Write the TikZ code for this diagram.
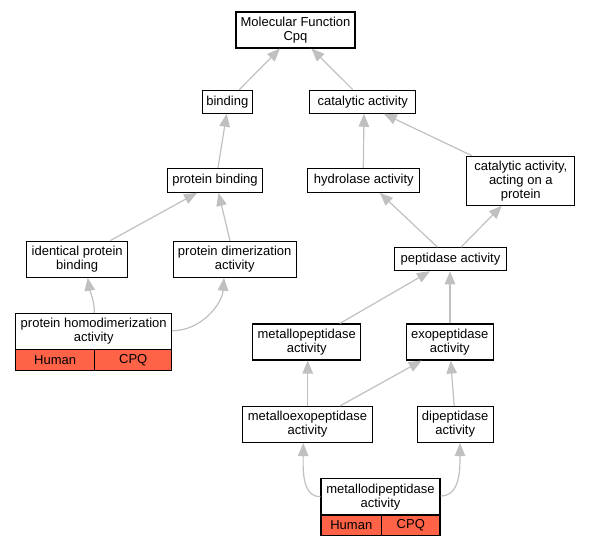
\documentclass[tikz,border=0pt]{standalone}
\usepackage{fontspec}
\setmainfont{Liberation Sans}
\usetikzlibrary{arrows.meta,calc}
\definecolor{edgegray}{HTML}{C0C0C0}
\definecolor{cellred}{HTML}{FF6347}
\tikzset{
  box/.style={draw=black, line width=1.1pt, fill=white, font=\fontsize{13}{14}\selectfont, align=center, inner sep=0pt},
  cell/.style={box, fill=cellred},
  sz/.style 2 args={minimum width=#1, minimum height=#2},
  edge/.style={draw=edgegray, line width=1.2pt, -{Triangle[length=13pt,width=10.5pt]}},
}
\begin{document}
\begin{tikzpicture}[x=1pt,y=-1pt]
\useasboundingbox (0,0) rectangle (589,547);
% nodes
\node[box,sz={119pt}{36pt}] (mf) at (295.5,30) {Molecular Function\\Cpq};
\node[box,sz={50pt}{23pt}] (bind) at (227.3,101.7) {binding};
\node[box,sz={106pt}{23pt}] (cat) at (362.8,101.7) {catalytic activity};
\node[box,sz={95pt}{24pt}] (pbind) at (215,180.3) {protein binding};
\node[box,sz={112pt}{24pt}] (hyd) at (363.8,180.3) {hydrolase activity};
\node[box,sz={108pt}{49pt}] (catp) at (520.8,180.7) {catalytic activity,\\acting on a\\protein};
\node[box,sz={101pt}{36pt}] (ident) at (77.2,259.2) {identical protein\\binding};
\node[box,sz={123pt}{36pt}] (dimer) at (234.7,259.2) {protein dimerization\\activity};
\node[box,sz={112pt}{23pt}] (pep) at (450.5,259.2) {peptidase activity};
\node[box,sz={156pt}{36pt}] (homo) at (93.7,331.3) {protein homodimerization\\activity};
\node[cell,sz={79pt}{21.4pt}] (homoh) at (55.2,360) {Human};
\node[cell,sz={77pt}{21.4pt}] (homoc) at (133.2,360) {CPQ};
\node[box,sz={108pt}{36pt}] (metp) at (306.8,342) {metallopeptidase\\activity};
\node[box,sz={87pt}{36pt}] (exo) at (449.7,342) {exopeptidase\\activity};
\node[box,sz={130pt}{36pt}] (metexo) at (307.5,424.5) {metalloexopeptidase\\activity};
\node[box,sz={76pt}{36pt}] (dip) at (455.2,424.5) {dipeptidase\\activity};
\node[box,sz={119pt}{36.7pt}] (metdi) at (380.5,496.7) {metallodipeptidase\\activity};
\node[cell,sz={60.7pt}{20.7pt}] (metdih) at (351.3,525.3) {Human};
\node[cell,sz={58.3pt}{20.7pt}] (metdic) at (410.8,525.3) {CPQ};
% edges
\draw[edge] ($(bind.north)+(12,0)$) -- ($(mf.south)+(-15.5,0)$);
\draw[edge] ($(cat.north)+(-10,0)$) -- ($(mf.south)+(16,0)$);
\draw[edge] ($(pbind.north)+(3,0)$) -- ($(bind.south)+(-0.6,0)$);
\draw[edge] ($(hyd.north)+(-0.5,0)$) -- ($(cat.south)+(1.2,0)$);
\draw[edge] ($(catp.north)+(-49,0)$) -- ($(cat.south)+(21,0)$);
\draw[edge] ($(ident.north)+(33,0)$) -- ($(pbind.south)+(-18,0)$);
\draw[edge] ($(dimer.north)+(-4.7,0)$) -- ($(pbind.south)+(3.5,0)$);
\draw[edge] ($(pep.north)+(-13,0)$) -- ($(hyd.south)+(16,0)$);
\draw[edge] ($(pep.north)+(10.5,0)$) -- ($(catp.south)+(-19,0)$);
\draw[edge] ($(homo.north)+(0.6,0)$) .. controls (94.5,300) and (90,292) .. ($(ident.south)+(10.5,0)$);
\draw[edge] ($(homo.east)+(0,-0.6)$) .. controls (200,331) and (222,305) .. ($(dimer.south)+(-10.7,0)$);
\draw[edge] ($(metp.north)+(33,0)$) -- ($(pep.south)+(-20.5,0)$);
\draw[edge] ($(exo.north)+(0.3,0)$) -- ($(pep.south)+(-0.5,0)$);
\draw[edge] ($(metexo.north)+(0.2,0)$) -- ($(metp.south)+(0.9,0)$);
\draw[edge] ($(metexo.north)+(32.5,0)$) -- ($(exo.south)+(-28,0)$);
\draw[edge] ($(dip.north)+(-1,0)$) -- ($(exo.south)+(1,0)$);
\draw[edge] (metdi.west) .. controls (302,496.7) and (303,470) .. ($(metexo.south)+(-4.2,0)$);
\draw[edge] ($(metdi.east)+(0,-0.7)$) .. controls (460,496) and (460,470) .. ($(dip.south)+(4.8,0)$);
\end{tikzpicture}
\end{document}
